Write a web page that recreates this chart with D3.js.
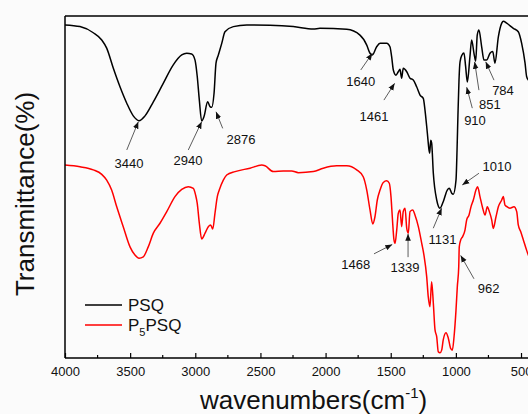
<!DOCTYPE html>
<html>
<head>
<meta charset="utf-8">
<script src="https://cdn.jsdelivr.net/npm/d3@7"></script>
<style>
  html, body { margin: 0; padding: 0; background: #fbfbfb; }
  svg { display: block; font-family: "Liberation Sans", Arial, sans-serif; }
</style>
</head>
<body>
<svg id="chart" width="528" height="414"></svg>
<script>
// FTIR spectra: wavenumber (cm-1) and transmittance (%, offset traces)
const psqWavenumber = [4000, 3885, 3783, 3718, 3680, 3629, 3578, 3526, 3476, 3432, 3386, 3322, 3246, 3169,
  3104, 3066, 3028, 3002, 2985, 2969, 2951, 2933, 2905, 2887, 2874, 2856, 2841, 2823, 2797, 2772, 2708,
  2605, 2427, 2248, 2094, 2043, 1838, 1736, 1684, 1659, 1641, 1608, 1582, 1531, 1506, 1493, 1480, 1460,
  1442, 1429, 1416, 1404, 1377, 1352, 1327, 1301, 1275, 1250, 1237, 1219, 1206, 1201, 1193, 1186, 1173,
  1147, 1122, 1097, 1066, 1050, 1032, 1020, 999, 991, 984, 976, 968, 953, 938, 925, 912, 892, 879, 861,
  848, 836, 823, 802, 784, 764, 738, 717, 700, 674, 648, 636, 610, 559, 521, 495, 469, 457, 444, 416];
const psqTransmittance = [97.4, 96.9, 95.1, 93.0, 90.6, 84.7, 79.3, 74.5, 70.8, 69.4, 70.8, 74.9, 80.3, 85.7,
  88.6, 89.1, 88.9, 87.1, 82.3, 75.4, 69.3, 70.6, 74.9, 73.5, 73.3, 77.4, 86.2, 88.6, 92.0, 95.4, 96.9,
  97.4, 97.3, 96.9, 96.2, 96.4, 96.1, 94.4, 91.5, 89.1, 88.6, 91.0, 92.0, 92.0, 91.0, 88.1, 84.2, 82.7,
  83.7, 84.4, 81.8, 84.7, 83.7, 81.8, 81.3, 79.3, 76.9, 75.9, 72.5, 65.8, 60.8, 59.9, 63.7, 62.9, 54.0,
  46.2, 43.8, 45.7, 49.1, 49.6, 48.2, 47.9, 52.0, 60.8, 71.1, 81.3, 86.6, 88.6, 89.2, 85.2, 80.7, 88.1, 93.0, 89.1,
  86.8, 94.4, 95.9, 91.0, 87.1, 87.1, 89.1, 89.6, 86.2, 93.9, 97.9, 98.5, 97.9, 96.4, 95.4, 92.0, 86.2, 82.3, 81.3, 80.7];

const p5psqWavenumber = [4000, 3885, 3783, 3718, 3680, 3642, 3603, 3553, 3501, 3463, 3432, 3399, 3361, 3322,
  3271, 3219, 3156, 3104, 3054, 3015, 2998, 2985, 2969, 2951, 2925, 2900, 2882, 2866, 2849, 2831, 2816,
  2785, 2759, 2695, 2580, 2490, 2465, 2401, 2325, 2260, 2209, 2094, 2018, 1915, 1838, 1761, 1711, 1684,
  1659, 1638, 1621, 1603, 1582, 1557, 1531, 1511, 1498, 1488, 1475, 1467, 1454, 1442, 1429, 1416, 1404,
  1390, 1377, 1365, 1352, 1331, 1314, 1288, 1262, 1245, 1224, 1212, 1199, 1186, 1173, 1160, 1147, 1135,
  1122, 1109, 1097, 1076, 1058, 1040, 1027, 1014, 999, 989, 978, 974, 963, 948, 930, 917, 899, 884, 866,
  846, 833, 815, 794, 776, 759, 743, 725, 713, 692, 674, 648, 636, 623, 605, 585, 554, 533, 521, 502, 482,
  462, 444, 416];
const p5psqTransmittance = [56.4, 55.9, 55.0, 53.7, 52.0, 49.1, 44.2, 38.4, 32.5, 30.1, 29.2, 29.6, 32.5, 36.5,
  39.4, 42.8, 47.2, 49.3, 50.1, 49.6, 47.7, 45.2, 39.4, 34.8, 36.5, 38.4, 38.9, 37.7, 42.3, 47.2, 49.1,
  52.0, 53.5, 54.5, 55.5, 56.4, 56.2, 54.5, 54.7, 54.7, 54.2, 54.5, 55.5, 56.2, 56.2, 55.0, 53.0, 49.1,
  43.3, 39.2, 41.3, 46.2, 49.1, 51.3, 51.8, 51.1, 47.2, 41.3, 34.5, 33.5, 37.4, 42.3, 43.3, 38.4, 42.8,
  43.8, 37.9, 36.5, 42.8, 43.3, 41.8, 38.4, 33.5, 30.1, 23.8, 17.9, 15.0, 22.3, 16.0, 8.2, 6.2, 1.8,
  1.5, 2.3, 5.3, 7.4, 5.8, 2.8, 2.3, 6.2, 14.0, 20.8, 26.7, 32.5, 34.5, 35.5, 37.4, 40.4, 41.8, 44.2, 46.2,
  49.1, 50.1, 47.2, 43.8, 41.8, 44.2, 42.8, 40.4, 37.9, 41.3, 44.2, 46.2, 47.2, 44.7, 44.2, 43.8, 44.2, 42.8, 38.9, 36.9, 34.5,
  32.1, 30.1, 28.7];

const seriesNames = ["PSQ", "P5PSQ"];
const seriesColors = ["#000000", "#ff0000"];

const xTicks = [4000, 3500, 3000, 2500, 2000, 1500, 1000, 500];
const xMinorTicks = [3750, 3250, 2750, 2250, 1750, 1250, 750];

// Band annotations: label and the point the arrow touches (wavenumber, transmittance)
const bandLabels = ["3440", "2940", "2876", "1640", "1461", "910", "851", "784",
                    "1010", "1131", "1468", "1339", "962"];
const bandTipWavenumber = [3437, 2951, 2841, 1641, 1470, 917, 856, 771, 951, 1109, 1488, 1367, 963];
const bandTipTransmittance = [69.1, 69.1, 72.0, 89.1, 80.3, 79.2, 86.6, 86.6, 50.6, 43.8, 33.2, 36.3, 30.0];

// Arrow tail and label centre, as pixel offsets from the arrow tip
const tailOffset = [[-11.6, 28.3], [-13.4, 28.3], [6.7, 16.6], [-11.6, 16.7], [-10.7, 16.7], [5.6, 21],
  [4.3, 28.3], [8.3, 18.3], [16.7, -11.7], [-8.4, 20], [-18.3, 9.4], [0, 23.3], [13.3, 23.4]];
const labelOffset = [[-9.3, 41.3], [-13.7, 38.3], [25, 27.3], [-11.6, 28.4], [-20.7, 33.4], [8.3, 33.4],
  [15.3, 42.3], [17.3, 28.3], [34.7, -18.3], [0.8, 30.7], [-36.6, 20], [-3, 33.3], [28, 33.4]];

const svg = d3.select("#chart");
const W = 528, H = 414;
const plotLeft = 65, plotTop = 16, plotBottom = 358;

const x = d3.scaleLinear().domain([4000, 400]).range([plotLeft, plotLeft + 3600 * 0.13029]);
const y = d3.scaleLinear().domain([0, 100]).range([plotBottom, plotTop]);

svg.append("rect").attr("width", W).attr("height", H).attr("fill", "#fbfbfb");

const defs = svg.append("defs");
defs.append("clipPath").attr("id", "plotClip")
  .append("rect").attr("x", plotLeft).attr("y", plotTop)
  .attr("width", W - plotLeft).attr("height", plotBottom - plotTop);

const marker = defs.append("marker")
  .attr("id", "arrowHead").attr("viewBox", "0 0 10 10")
  .attr("refX", 10).attr("refY", 5)
  .attr("markerWidth", 7).attr("markerHeight", 7)
  .attr("markerUnits", "userSpaceOnUse")
  .attr("orient", "auto");
marker.append("path").attr("d", "M0,1 L10,5 L0,9 Z").attr("fill", "#111");

// Spectra
const line = d3.line().x(d => x(d[0])).y(d => y(d[1])).curve(d3.curveMonotoneX);
const traces = [
  d3.zip(psqWavenumber, psqTransmittance),
  d3.zip(p5psqWavenumber, p5psqTransmittance)
];
const plot = svg.append("g").attr("clip-path", "url(#plotClip)");
traces.forEach((t, i) => {
  plot.append("path").datum(t).attr("d", line)
    .attr("fill", "none").attr("stroke", seriesColors[i])
    .attr("stroke-width", 1.5).attr("stroke-linejoin", "round");
});

// Frame: left axis, top border, bottom axis
svg.append("line").attr("x1", plotLeft).attr("x2", plotLeft).attr("y1", plotTop).attr("y2", plotBottom)
  .attr("stroke", "#000").attr("stroke-width", 1.5);
svg.append("line").attr("x1", plotLeft).attr("x2", W).attr("y1", plotTop).attr("y2", plotTop)
  .attr("stroke", "#000").attr("stroke-width", 1.5);

const xAxis = d3.axisBottom(x).tickValues(xTicks).tickFormat(d3.format("d"))
  .tickSizeInner(-5).tickSizeOuter(0).tickPadding(9);
const gx = svg.append("g").attr("transform", `translate(0,${plotBottom})`).call(xAxis);
gx.select(".domain").attr("stroke-width", 1.5).attr("d", `M${plotLeft},0H${W}`);
gx.selectAll(".tick line").attr("stroke-width", 1.2);
gx.selectAll(".tick text").attr("font-size", 13).attr("fill", "#111")
  .attr("font-family", "'Liberation Sans', Arial, sans-serif");

const gxm = svg.append("g").attr("transform", `translate(0,${plotBottom})`);
gxm.selectAll("line").data(xMinorTicks).join("line")
  .attr("x1", d => x(d)).attr("x2", d => x(d)).attr("y1", 0).attr("y2", -3)
  .attr("stroke", "#000").attr("stroke-width", 1.2);

// Axis titles
const xTitle = svg.append("text").attr("x", 200).attr("y", 409)
  .attr("font-size", 26).attr("fill", "#111");
xTitle.append("tspan").text("wavenumbers(cm");
xTitle.append("tspan").attr("font-size", 15).attr("dy", -11).text("-1");
xTitle.append("tspan").attr("dy", 11).text(")");

svg.append("text")
  .attr("transform", "translate(34,194) rotate(-90)")
  .attr("text-anchor", "middle").attr("font-size", 26).attr("fill", "#111")
  .text("Transmittance(%)");

// Legend
const legendY = [305, 325];
seriesNames.forEach((name, i) => {
  svg.append("line").attr("x1", 85).attr("x2", 122).attr("y1", legendY[i]).attr("y2", legendY[i])
    .attr("stroke", seriesColors[i]).attr("stroke-width", 1.5);
});
svg.append("text").attr("x", 128).attr("y", legendY[0] + 6).attr("font-size", 17).attr("fill", "#111")
  .text(seriesNames[0]);
const lg2 = svg.append("text").attr("x", 128).attr("y", legendY[1] + 6).attr("font-size", 17).attr("fill", "#111");
lg2.append("tspan").text("P");
lg2.append("tspan").attr("font-size", 11).attr("dy", 5).text("5");
lg2.append("tspan").attr("dy", -5).text("PSQ");

// Band annotations
const ann = svg.append("g");
bandLabels.forEach((lab, i) => {
  const tx = x(bandTipWavenumber[i]), ty = y(bandTipTransmittance[i]);
  ann.append("line")
    .attr("x1", tx + tailOffset[i][0]).attr("y1", ty + tailOffset[i][1])
    .attr("x2", tx).attr("y2", ty)
    .attr("stroke", "#333").attr("stroke-width", 0.8)
    .attr("marker-end", "url(#arrowHead)");
  ann.append("text")
    .attr("x", tx + labelOffset[i][0]).attr("y", ty + labelOffset[i][1] + 4.6)
    .attr("text-anchor", "middle").attr("font-size", 13).attr("fill", "#111")
    .text(lab);
});
</script>
</body>
</html>
